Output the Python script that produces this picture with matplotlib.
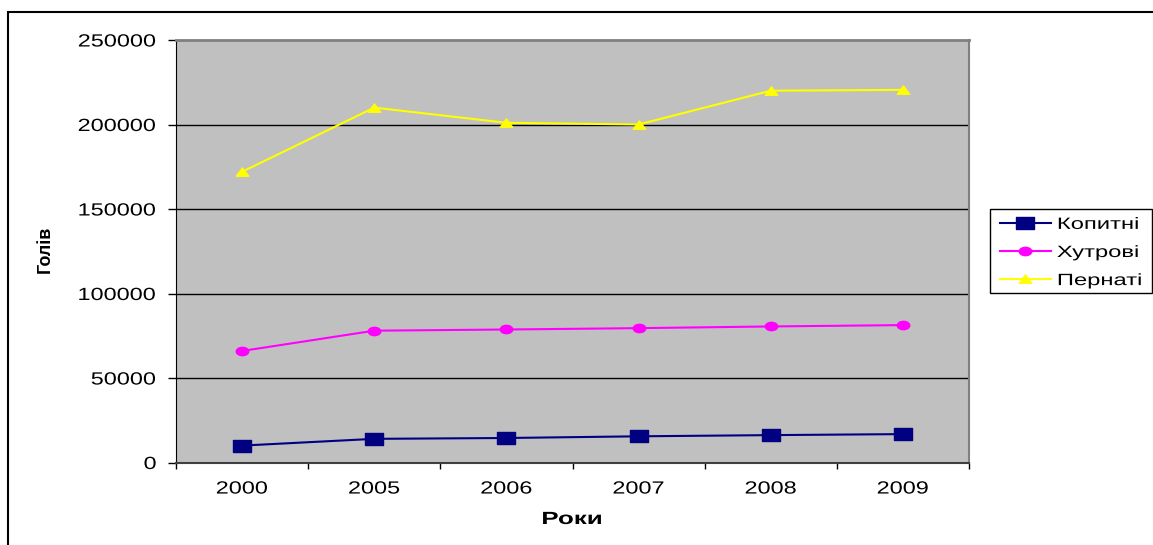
import matplotlib
matplotlib.use('Agg')
import matplotlib.pyplot as plt
import numpy as np
from matplotlib.path import Path
from matplotlib.patches import Rectangle
from matplotlib.patheffects import AbstractPathEffect
from matplotlib.transforms import Affine2D

plt.rcParams['font.family'] = ['Liberation Sans', 'DejaVu Sans']

# дані
роки = ['2000', '2005', '2006', '2007', '2008', '2009']
копитні = [10000, 14000, 14500, 15500, 16200, 16800]
хутрові = [66000, 78000, 78700, 79500, 80500, 81300]
пернаті = [172000, 210000, 201000, 200000, 220000, 220500]
назви = ['Копитні', 'Хутрові', 'Пернаті']


class Розтяг(AbstractPathEffect):
    """Розтягує текст по ширині відносно лівого краю, центру або правого краю."""

    def __init__(self, sx, прив='center'):
        super().__init__()
        self.sx = sx
        self.прив = прив

    def draw_path(self, renderer, gc, tpath, affine, rgbFace=None):
        ext = tpath.get_extents()
        cx = {'left': 0.0, 'center': (ext.x0 + ext.x1) / 2, 'right': ext.x1}[self.прив]
        t = Affine2D().translate(-cx, 0).scale(self.sx, 1).translate(cx, 0)
        renderer.draw_path(gc, tpath, t + affine, rgbFace)


# маркери трохи розтягнуті по горизонталі
квадрат = Path([(-0.75, -0.5), (0.75, -0.5), (0.75, 0.5), (-0.75, 0.5), (-0.75, -0.5)],
               [Path.MOVETO, Path.LINETO, Path.LINETO, Path.LINETO, Path.CLOSEPOLY])
коло = Path(Path.unit_circle().vertices * np.array([1.5, 1.0]), Path.unit_circle().codes)
трикутник = Path([(-0.75, -0.45), (0.75, -0.45), (0.0, 0.55), (-0.75, -0.45)],
                 [Path.MOVETO, Path.LINETO, Path.LINETO, Path.CLOSEPOLY])

W, H = 1153, 545
fig = plt.figure(figsize=(W / 100, H / 100), dpi=100)
ax = fig.add_axes([176 / W, 1 - 462.5 / H, (969 - 176) / W, (462.5 - 40) / H])
ax.set_facecolor('#C0C0C0')

x = np.arange(len(роки))
ax.plot(x, копитні, color='#000080', lw=1.5, marker=квадрат, ms=13, mec='#000080', mfc='#000080', label=назви[0])
ax.plot(x, хутрові, color='#FF00FF', lw=1.5, marker=коло, ms=9, mec='#FF00FF', mfc='#FF00FF', label=назви[1])
ax.plot(x, пернаті, color='#FFFF00', lw=1.5, marker=трикутник, ms=9, mec='#FFFF00', mfc='#FFFF00', label=назви[2])

ax.set_xlim(-0.5, len(роки) - 0.5)
ax.set_ylim(0, 250000)
ax.set_yticks(np.arange(0, 250001, 50000))
ax.set_xticks(x)
ax.set_xticklabels(роки)
ax.set_xticks(np.arange(-0.5, len(роки)), minor=True)
ax.tick_params(axis='x', which='major', length=0, pad=13, labelsize=12.7)
ax.tick_params(axis='x', which='minor', length=4, width=1, direction='out')
ax.tick_params(axis='y', length=6, width=1, direction='out', pad=8, labelsize=12.7)
for підпис in ax.get_xticklabels():
    підпис.set_path_effects([Розтяг(1.33, 'center')])
for підпис in ax.get_yticklabels():
    підпис.set_path_effects([Розтяг(1.33, 'right')])

for у in range(50000, 250000, 50000):
    ax.axhline(у, color='black', lw=1, zorder=1)

ax.spines['top'].set_color('#808080')
ax.spines['right'].set_color('#808080')
ax.spines['top'].set_linewidth(2)
ax.spines['right'].set_linewidth(1.5)
ax.spines['left'].set_color('black')
ax.spines['bottom'].set_color('#404040')
ax.spines['bottom'].set_linewidth(1.5)

fig.text(572 / W, 1 - 519.5 / H, 'Роки', ha='center', va='center', fontsize=12.7, fontweight='bold',
         path_effects=[Розтяг(1.47, 'center')])
fig.text(45 / W, 1 - 249 / H, 'Голів', ha='center', va='center', rotation=90, fontsize=13, fontweight='bold')

лег = fig.legend(loc='center left', bbox_to_anchor=(1000 / W, 1 - 252.5 / H), fontsize=11.8,
                 frameon=False, handlelength=3.1, handletextpad=0.37, labelspacing=0.8,
                 borderpad=0, borderaxespad=0)
for т in лег.get_texts():
    т.set_path_effects([Розтяг(1.45, 'left')])
fig.patches.append(Rectangle((990 / W, 1 - 293 / H), 162 / W, 84 / H, transform=fig.transFigure,
                             fill=False, edgecolor='black', lw=1))

# рамка навколо всього рисунка
fig.patches.append(Rectangle((8 / W, -0.05), 1.1, 1 - 12 / H + 0.05, transform=fig.transFigure,
                             fill=False, edgecolor='black', lw=1.5, clip_on=False))

fig.savefig('out.png', dpi=100)
